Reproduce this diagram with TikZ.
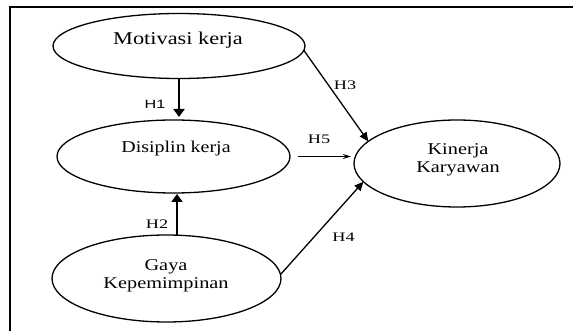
\documentclass[tikz,border=0pt]{standalone}
\usepackage{fontspec}
\usepackage{graphicx}
\setmainfont{Liberation Serif}
\newfontfamily\labsans{Liberation Sans}
\usetikzlibrary{shapes.geometric,arrows.meta}
\newcommand{\stretchtxt}[2][1.23]{\scalebox{#1}[1]{#2}}
\tikzset{
  ell/.style={draw, ellipse, line width=1.3pt, inner sep=0pt, outer sep=0pt},
  inner/.style={inner sep=0pt, font=\fontsize{16.5}{18}\selectfont},
  hlab/.style={inner sep=0pt, font=\fontsize{13}{15}\selectfont},
  boldarrow/.style={line width=2.2pt, -{Triangle[length=8pt,width=11pt]}},
  thinarrow/.style={line width=1.3pt, -{Triangle[length=9pt,width=8pt]}},
  smallarrow/.style={line width=1.2pt, -{Stealth[length=8pt,width=5pt]}},
}
\begin{document}
\begin{tikzpicture}[x=1pt,y=-1pt]
\useasboundingbox (0,0) rectangle (573,331);
% frame
\draw[line width=1.4pt] (10,331) -- (10,7) -- (573,7);
% ellipses
\node[ell, minimum width=252pt, minimum height=65pt] (mot) at (179,46) {};
\node[ell, minimum width=233pt, minimum height=73pt] (dis) at (173.5,156.5) {};
\node[ell, minimum width=229pt, minimum height=87pt] (gaya) at (166.5,278.5) {};
\node[ell, minimum width=206pt, minimum height=87pt] (kin) at (457,163.5) {};
% texts
\node[inner, anchor=base, font=\fontsize{18}{20}\selectfont] (motT) at (178,45) {\stretchtxt[1.24]{Motivasi kerja}};
\node[inner, anchor=base] (disT) at (176,153) {\stretchtxt[1.21]{Disiplin kerja}};
\node[inner] (gayaT) at (166,275.4) {\stretchtxt{\begin{tabular}{@{}c@{}}Gaya\\Kepemimpinan\end{tabular}}};
\node[inner] (kinT) at (458,160.4) {\stretchtxt{\begin{tabular}{@{}c@{}}Kinerja\\Karyawan\end{tabular}}};
% connectors
\draw[boldarrow, shorten >=3pt] (mot.south) -- (mot.south |- dis.north);
\draw[boldarrow, shorten >=1pt] ([xshift=3.5pt]gaya.north -| dis.south) -- ([xshift=3.5pt]dis.south);
\draw[thinarrow] (mot.-2) -- (kin.166);
\draw[thinarrow] (gaya.2) -- (kin.191);
\draw[smallarrow, shorten <=8pt, shorten >=3pt] (dis.east) -- (dis.east -| kin.west);
% labels
\node[inner sep=0pt, font=\labsans\fontsize{12}{14}\selectfont] (h1) at (155,104) {\stretchtxt[1.35]{H1}};
\node[hlab] (h2) at (157,224) {\stretchtxt[1.4]{H2}};
\node[hlab] (h3) at (345,85.5) {\stretchtxt[1.4]{H3}};
\node[hlab] (h4) at (343.5,237) {\stretchtxt[1.4]{H4}};
\node[hlab] (h5) at (319,139.5) {\stretchtxt[1.4]{H5}};
\end{tikzpicture}
\end{document}
